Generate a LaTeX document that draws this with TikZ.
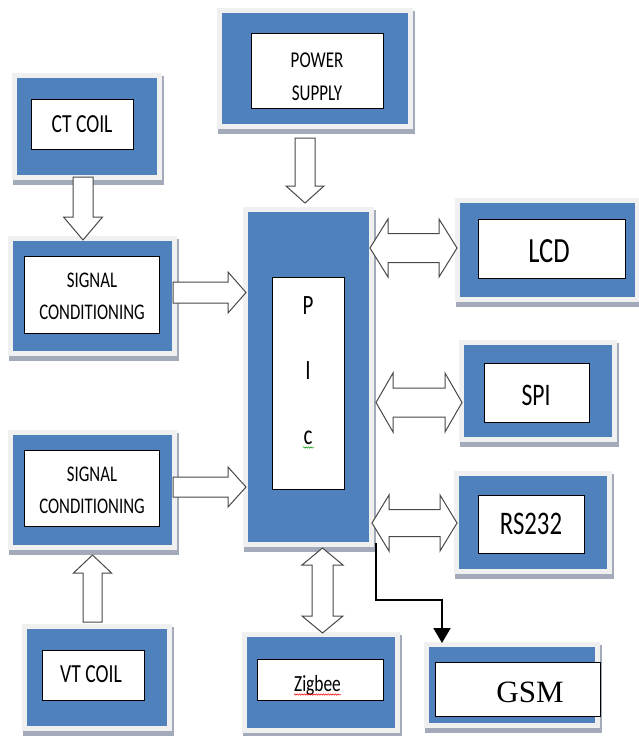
\documentclass[tikz,border=0pt]{standalone}
\usepackage{fontspec}
\setmainfont{Carlito}
\newfontfamily\gsmfont{Liberation Serif}
\usepackage{graphicx}
\usetikzlibrary{arrows.meta,decorations.pathmorphing}
\definecolor{myblue}{RGB}{79,129,189}
\definecolor{frameg}{RGB}{240,240,240}
\definecolor{shadowc}{RGB}{163,171,186}
\definecolor{arrowc}{RGB}{72,72,72}
\newcommand\sy[1]{\scalebox{1}[1.33]{#1}}
% name, cx, cy, w, h  (blue area)
\newcommand\bluebox[5]{%
  \fill[shadowc] ({#2-#4/2-4},{#3-#5/2-2}) rectangle ({#2+#4/2+7},{#3+#5/2+10});
  \node[bbox, minimum width={#4+5}, minimum height={#5+5}] (#1) at (#2,#3) {};}
\newcommand\whitebox[5]{%
  \node[wbox, minimum width={#4}, minimum height={#5}] (#1) at (#2,#3) {};}
% single arrow right/left: x1,x2,yc,shaft half,head half,head length
\newcommand\harrow[6]{%
  \draw[blockarrow] (#1,{#3-#4}) -- ({#2-#6},{#3-#4}) -- ({#2-#6},{#3-#5}) -- (#2,#3)
    -- ({#2-#6},{#3+#5}) -- ({#2-#6},{#3+#4}) -- (#1,{#3+#4}) -- cycle;}
% single arrow down/up: y1,y2,xc,shaft half,head half,head length
\newcommand\varrow[6]{%
  \draw[blockarrow] ({#3-#4},#1) -- ({#3-#4},{#2-#6}) -- ({#3-#5},{#2-#6}) -- (#3,#2)
    -- ({#3+#5},{#2-#6}) -- ({#3+#4},{#2-#6}) -- ({#3+#4},#1) -- cycle;}
% double arrow horizontal
\newcommand\hdarrow[6]{%
  \draw[blockarrow] (#1,#3) -- ({#1+#6},{#3-#5}) -- ({#1+#6},{#3-#4}) -- ({#2-#6},{#3-#4})
    -- ({#2-#6},{#3-#5}) -- (#2,#3) -- ({#2-#6},{#3+#5}) -- ({#2-#6},{#3+#4})
    -- ({#1+#6},{#3+#4}) -- ({#1+#6},{#3+#5}) -- cycle;}
% double arrow vertical
\newcommand\vdarrow[6]{%
  \draw[blockarrow] (#3,#1) -- ({#3-#5},{#1+#6}) -- ({#3-#4},{#1+#6}) -- ({#3-#4},{#2-#6})
    -- ({#3-#5},{#2-#6}) -- (#3,#2) -- ({#3+#5},{#2-#6}) -- ({#3+#4},{#2-#6})
    -- ({#3+#4},{#1+#6}) -- ({#3+#5},{#1+#6}) -- cycle;}
\tikzset{
  bbox/.style={fill=myblue, draw=frameg, line width=5pt, inner sep=0pt, outer sep=0pt},
  wbox/.style={fill=white, draw=black, line width=0.9pt, inner sep=0pt, outer sep=0pt},
  lbl/.style={inner sep=0pt, text=black, align=center},
  blockarrow/.style={fill=white, draw=arrowc, line width=1pt, line join=miter},
  conn/.style={draw=black, line width=2pt, -{Triangle[width=17pt,length=15pt]}},
  squig/.style={decorate, decoration={snake, amplitude=0.7pt, segment length=2.4pt}, line width=0.5pt}
}
\begin{document}
\begin{tikzpicture}[x=1pt,y=-1pt]
\useasboundingbox (0,0) rectangle (638,736);
\fill[white] (0,0) rectangle (638,736);

% blue blocks
\bluebox{ct}{87}{126.5}{140}{97}
\bluebox{ps}{315}{68.5}{186}{111}
\bluebox{sca}{92.5}{296}{159}{110}
\bluebox{pic}{308.5}{377}{121}{330}
\bluebox{lcd}{547.5}{250}{175}{94}
\bluebox{spi}{538}{391}{148}{92}
\bluebox{rs}{533}{522.5}{148}{93}
\bluebox{scb}{92.5}{490}{159}{110}
\bluebox{vt}{97}{677.5}{140}{97}
\bluebox{zb}{321}{682.5}{148}{91}
\bluebox{gsm}{512}{685}{166}{76}

% inner white boxes
\whitebox{ctin}{82}{124}{102}{50}
\whitebox{psin}{317}{70.5}{132}{75}
\whitebox{scain}{91.5}{294.5}{135}{77}
\whitebox{picin}{308}{383}{72}{212}
\whitebox{lcdin}{551.5}{248.5}{147}{59}
\whitebox{spiin}{536.5}{392.5}{105}{59}
\whitebox{rsin}{531}{524}{106}{58}
\whitebox{scbin}{91.5}{488}{135}{76}
\whitebox{vtin}{93}{675}{102}{50}
\whitebox{zbin}{320}{679.5}{126}{41}
\whitebox{gsmin}{517.5}{689}{165}{54}

% texts
\node[lbl, anchor=base, font=\fontsize{19.6}{24}\selectfont] (ctt) at (82,132) {\sy{CT COIL}};
\node[lbl, font=\fontsize{17}{33}\selectfont] (pst) at (317,76.5) {\sy{POWER}\\\sy{SUPPLY}};
\node[lbl, font=\fontsize{16.8}{32}\selectfont] (scat) at (92,296.5) {\sy{SIGNAL}\\\sy{CONDITIONING}};
\node[lbl, font=\fontsize{16.8}{32}\selectfont] (scbt) at (92,490.5) {\sy{SIGNAL}\\\sy{CONDITIONING}};
\node[lbl, font=\fontsize{21}{65}\selectfont] (pict) at (308,371) {\sy{P}\\\sy{I}\\\sy{c}};
\node[lbl, anchor=base, font=\fontsize{26.6}{30}\selectfont] (lcdt) at (549,262) {\sy{LCD}};
\node[lbl, anchor=base, font=\fontsize{23.6}{28}\selectfont] (spit) at (536,405) {\sy{SPI}};
\node[lbl, anchor=base, font=\fontsize{24.8}{28}\selectfont] (rst) at (531,534) {\sy{RS232}};
\node[lbl, anchor=base, font=\fontsize{19.6}{24}\selectfont] (vtt) at (91,682) {\sy{VT COIL}};
\node[lbl, anchor=base, font=\fontsize{17.4}{22}\selectfont] (zbt) at (317.5,691) {\sy{Zigbee}};
\node[lbl, anchor=base, font=\gsmfont\fontsize{31}{34}\selectfont] (gsmt) at (530,702) {GSM};

% spell-check squiggles
\draw[squig, red] (294,694.5) -- (341,694.5);
\draw[squig, green!60!black] (303,447.5) -- (314,447.5);

% block arrows
\varrow{177}{240}{83}{10}{19.5}{23}
\varrow{138}{203}{305}{10}{19}{17}
\harrow{173}{246}{292.5}{10.5}{20.5}{18}
\harrow{173}{246}{487}{10}{20}{18}
\varrow{622}{555}{92.5}{9.5}{19}{-18}
\hdarrow{370}{457}{248}{14.5}{29}{18}
\hdarrow{376}{462}{402.5}{14.5}{29.5}{17}
\hdarrow{372}{457}{523}{13.5}{28}{17}
\vdarrow{548}{633}{322.5}{10.5}{20.5}{17}

% GSM connector
\coordinate (picout) at (376,543);
\coordinate (gsmtop) at (442,643);
\draw[conn] (picout) -- ++(0,57) -| (gsmtop);
\end{tikzpicture}
\end{document}
